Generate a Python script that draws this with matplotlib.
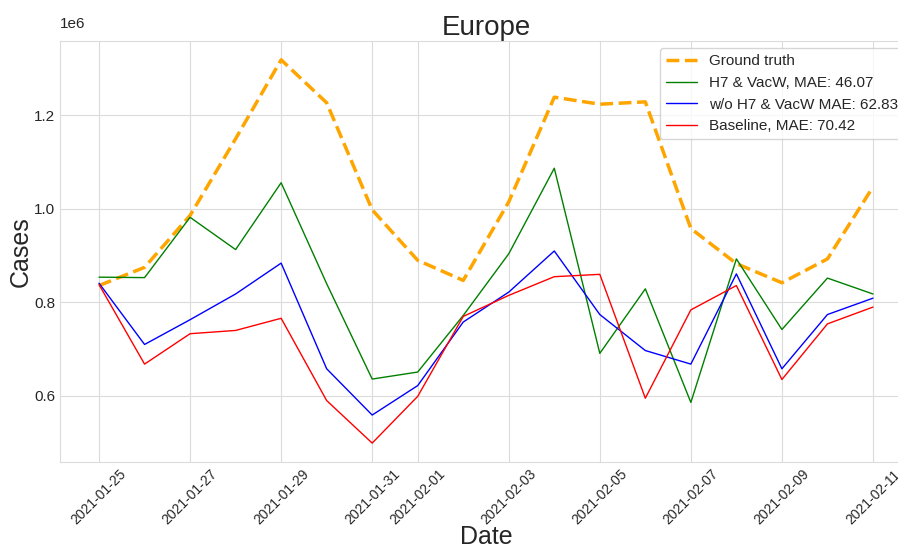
import matplotlib
matplotlib.use("Agg")
import matplotlib.pyplot as plt
from matplotlib.transforms import Affine2D
import seaborn as sns
import pandas as pd

dates = pd.date_range("2021-01-25", "2021-02-11", freq="D")

ground_truth = [0.836, 0.875, 0.986, 1.150, 1.319, 1.227, 0.998, 0.890, 0.847,
                1.015, 1.239, 1.224, 1.229, 0.958, 0.883, 0.842, 0.893, 1.047]
h7_vacw = [0.854, 0.853, 0.982, 0.913, 1.056, 0.840, 0.636, 0.651, 0.772,
           0.904, 1.087, 0.691, 0.829, 0.586, 0.893, 0.742, 0.852, 0.818]
no_h7_vacw = [0.841, 0.710, 0.763, 0.818, 0.884, 0.658, 0.559, 0.622, 0.758,
              0.822, 0.910, 0.774, 0.697, 0.668, 0.861, 0.658, 0.774, 0.809]
baseline = [0.838, 0.668, 0.733, 0.740, 0.766, 0.590, 0.499, 0.599, 0.770,
            0.815, 0.855, 0.860, 0.595, 0.784, 0.836, 0.635, 0.754, 0.790]

scale = 1e6

sns.set_style("whitegrid", {"grid.color": ".86", "axes.edgecolor": ".86"})
plt.rcParams["font.family"] = ["Liberation Sans", "DejaVu Sans"]

fig = plt.figure(figsize=(8.98, 5.49), dpi=100)
ax = fig.add_axes([0.0672, 0.158, 0.948, 0.768])

ax.plot(dates, [v * scale for v in ground_truth], "--", color="orange",
        lw=2.5, label="Ground truth")
ax.plot(dates, [v * scale for v in h7_vacw], color="green", lw=1,
        label="H7 & VacW, MAE: 46.07")
ax.plot(dates, [v * scale for v in no_h7_vacw], color="blue", lw=1,
        label="w/o H7 & VacW MAE: 62.83")
ax.plot(dates, [v * scale for v in baseline], color="red", lw=1,
        label="Baseline, MAE: 70.42")

ax.set_title("Europe", fontsize=20, pad=4)
ax.set_xlabel("Date", fontsize=18, labelpad=-2)
ax.set_ylabel("Cases", fontsize=18, labelpad=1)
ax.tick_params(axis="x", labelrotation=45, labelsize=10, pad=0)
ax.tick_params(axis="y", labelsize=11, pad=0)

# lift the "1e6" multiplier a little above the axes
off = ax.yaxis.get_offset_text()
off.set_fontsize(11)
off.set_transform(off.get_transform() + Affine2D().translate(0, 8))

ax.legend(loc="upper right", fontsize=11)

fig.savefig("out.png", dpi=100)
